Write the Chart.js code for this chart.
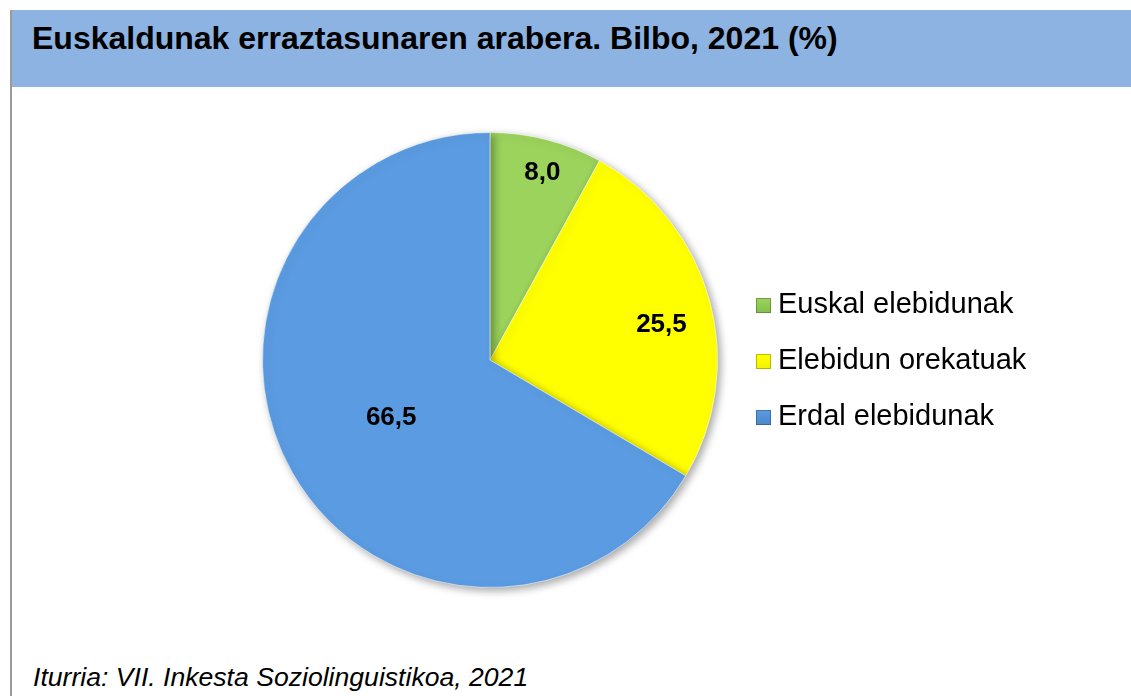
<!DOCTYPE html>
<html>
<head>
<meta charset="utf-8">
<script src="https://cdn.jsdelivr.net/npm/chart.js@4.4.1/dist/chart.umd.min.js"></script>
<style>
  html, body { margin: 0; padding: 0; background: #fff; }
  body { width: 1131px; height: 696px; position: relative; overflow: hidden; font-family: "Liberation Sans", Arial, sans-serif; }
  .frame { position: absolute; left: 10px; top: 10px; width: 2px; height: 686px; background: #9a9a9a; }
  .title-bar { position: absolute; left: 12px; top: 10px; width: 1119px; height: 77px; background: #8db3e2; }
  .title-bar h1 { margin: 0; position: absolute; left: 20px; top: 10px; font-size: 32px; font-weight: bold; color: #000; line-height: 36px; }
  .source { position: absolute; left: 33px; top: 662px; font-size: 26.6px; line-height: 30px; font-style: italic; color: #000; }
  #wrap { position: absolute; left: 0; top: 0; width: 1131px; height: 696px; }
</style>
</head>
<body>
<div class="frame"></div>
<div class="title-bar"><h1>Euskaldunak erraztasunaren arabera. Bilbo, 2021 (%)</h1></div>
<div class="source">Iturria: VII. Inkesta Soziolinguistikoa, 2021</div>
<div id="wrap"><canvas id="pieChart" width="1131" height="696"></canvas></div>
<script>
  // Data
  const categories = ['Euskal elebidunak', 'Elebidun orekatuak', 'Erdal elebidunak'];
  const values = [8.0, 25.5, 66.5];
  const colors = ['#9bd35c', '#ffff00', '#5b9be1'];
  const legendColors = ['#7fbf4a', '#f2f200', '#4a86cc'];

  // value labels inside slices, placed at a fraction of the radius
  const sliceLabels = {
      id: 'sliceLabels',
      afterDatasetsDraw(chart, args, opts) {
          const ctx = chart.ctx;
          const meta = chart.getDatasetMeta(0);
          ctx.save();
          ctx.font = 'bold 26px "Liberation Sans", Arial, sans-serif';
          ctx.fillStyle = '#000';
          ctx.textAlign = 'center';
          ctx.textBaseline = 'middle';
          meta.data.forEach((arc, i) => {
              const mid = (arc.startAngle + arc.endAngle) / 2 + opts.shift[i];
              const r = arc.outerRadius * opts.radii[i];
              const x = arc.x + Math.cos(mid) * r;
              const y = arc.y + Math.sin(mid) * r;
              ctx.fillText(values[i].toFixed(1).replace('.', ','), x, y + 1);
          });
          ctx.restore();
      }
  };

  // legend on the right
  const sideLegend = {
      id: 'sideLegend',
      afterDraw(chart, args, opts) {
          const ctx = chart.ctx;
          ctx.save();
          ctx.font = '29px "Liberation Sans", Arial, sans-serif';
          ctx.textBaseline = 'middle';
          categories.forEach((name, i) => {
              const y = opts.top + i * opts.step;
              const g = ctx.createLinearGradient(0, y - 6, 0, y + 10);
              g.addColorStop(0, colors[i]);
              g.addColorStop(1, legendColors[i]);
              ctx.fillStyle = g;
              ctx.fillRect(opts.x, y - 6, 15, 15);
              ctx.strokeStyle = 'rgba(0,0,0,0.25)';
              ctx.lineWidth = 1;
              ctx.strokeRect(opts.x + 0.5, y - 5.5, 14, 14);
              ctx.fillStyle = '#000';
              ctx.fillText(name, opts.x + 22, y + 1);
          });
          ctx.restore();
      }
  };

  // soft shadow under the pie
  const pieShadow = {
      id: 'pieShadow',
      beforeDatasetsDraw(chart) {
          const ctx = chart.ctx;
          ctx.save();
          ctx.shadowColor = 'rgba(0,0,0,0.35)';
          ctx.shadowBlur = 8;
          ctx.shadowOffsetX = 3;
          ctx.shadowOffsetY = 3;
      },
      afterDatasetsDraw(chart) {
          chart.ctx.restore();
      }
  };

  const ctx = document.getElementById('pieChart').getContext('2d');
  new Chart(ctx, {
      type: 'pie',
      data: {
          labels: categories,
          datasets: [{
              data: values,
              backgroundColor: colors,
              borderColor: 'rgba(255,255,255,0.55)',
              borderWidth: 1
          }]
      },
      options: {
          responsive: false,
          animation: false,
          layout: {
              padding: { left: 262, right: 413, top: 132, bottom: 108 }
          },
          plugins: {
              legend: { display: false },
              tooltip: { enabled: false },
              sliceLabels: { radii: [0.86, 0.77, 0.5], shift: [0.02, 0.06, 0] },
              sideLegend: { x: 756, top: 304, step: 56 }
          }
      },
      plugins: [pieShadow, sliceLabels, sideLegend]
  });
</script>
</body>
</html>
